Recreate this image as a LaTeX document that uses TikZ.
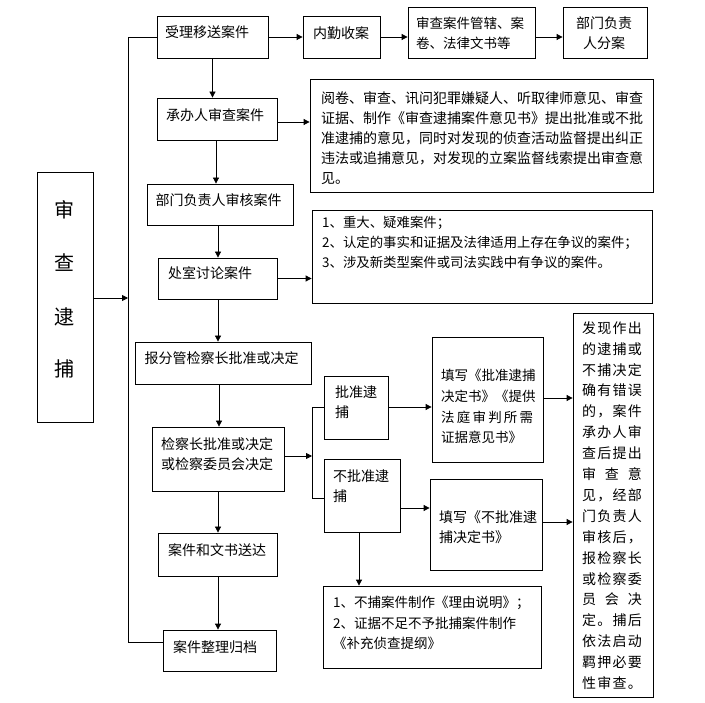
\documentclass[tikz,border=0pt]{standalone}
\usepackage{fontspec}
\setmainfont{Noto Sans CJK SC}
\usetikzlibrary{arrows.meta,calc}
\makeatletter
\def\spr@#1#2\@nil{#1\ifx\relax#2\relax\else\hfill\spr@#2\@nil\fi}
\newcommand\sline[2]{\makebox[#1][s]{\spr@#2\@nil}}
\makeatother
\begin{document}
\begin{tikzpicture}[x=1pt,y=-1pt,
  box/.style={draw,line width=0.8pt,inner sep=0pt,anchor=center},
  txt/.style={font={\fontsize{14}{20}\selectfont},inner sep=0pt},
  arr/.style={line width=0.8pt,-{Triangle[length=6pt,width=6pt]}},
  ln/.style={line width=0.8pt}]
\useasboundingbox (0,0) rectangle (705,703);
\fill[white] (0,0) rectangle (705,703);
% boxes
\node[box,minimum width=111pt,minimum height=42pt] (shouli) at (212.5,37) {};
\node[txt] at (207,32) {受理移送案件};
\node[box,minimum width=77pt,minimum height=42pt] (neiqin) at (341.5,37) {};
\node[txt] at (341,33) {内勤收案};
\node[box,minimum width=127pt,minimum height=51pt] (guanxia) at (471.5,32.5) {};
\node[txt,align=left,font={\fontsize{13.5}{20}\selectfont}] at (470,33) {审查案件管辖、案\\卷、法律文书等};
\node[box,minimum width=84pt,minimum height=51pt] (fenan) at (605,32.5) {};
\node[txt,align=center] at (604,33) {部门负责\\人分案};
\node[box,minimum width=120pt,minimum height=42pt] (chengban) at (217,119) {};
\node[txt] at (215,115) {承办人审查案件};
\node[box,minimum width=343pt,minimum height=113pt] (yuejuan) at (481.5,135.5) {};
\node[txt,align=left,anchor=west] at (321,138) {阅卷、审查、讯问犯罪嫌疑人、听取律师意见、审查\\证据、制作《审查逮捕案件意见书》提出批准或不批\\准逮捕的意见，同时对发现的侦查活动监督提出纠正\\违法或追捕意见，对发现的立案监督线索提出审查意\\见。};
\node[box,minimum width=146pt,minimum height=41pt] (shenhe) at (220,204.5) {};
\node[txt] at (218.5,200) {部门负责人审核案件};
\node[box,minimum width=340pt,minimum height=93pt] (yinan) at (482,256.5) {};
\node[txt,align=left,anchor=west,font={\fontsize{13.4}{20}\selectfont}] at (322,242) {1、重大、疑难案件；\\2、认定的事实和证据及法律适用上存在争议的案件；\\3、涉及新类型案件或司法实践中有争议的案件。};
\node[box,minimum width=119pt,minimum height=41pt] (chushi) at (217.5,278.5) {};
\node[txt] at (210,273) {处室讨论案件};
\node[box,minimum width=176pt,minimum height=42pt] (baofen) at (223,363) {};
\node[txt] at (221.5,358) {报分管检察长批准或决定};
\node[box,minimum width=132pt,minimum height=64pt] (jcz) at (218,459) {};
\node[txt,align=center] at (217,454) {检察长批准或决定\\或检察委员会决定};
\node[box,minimum width=64pt,minimum height=63pt] (pizhun) at (356,407.5) {};
\node[txt,align=left,anchor=west] at (335,402) {批准逮\\捕};
\node[box,minimum width=76pt,minimum height=73pt] (bupizhun) at (362,495.5) {};
\node[txt,align=left,anchor=west] at (333,486) {不批准逮\\捕};
\node[box,minimum width=111pt,minimum height=125pt] (tx1) at (487.5,399.5) {};
\node[txt,align=left,anchor=west,font={\fontsize{13.5}{20.8}\selectfont}] at (441,406.5) {\sline{92pt}{填写《批准逮捕}\\\sline{92pt}{决定书》《提供}\\\sline{92pt}{法庭审判所需}\\证据意见书》};
\node[box,minimum width=112pt,minimum height=91pt] (tx2) at (486,524.5) {};
\node[txt,align=left,anchor=west] at (439,527) {填写《不批准逮\\捕决定书》};
\node[box,minimum width=80pt,minimum height=384pt] (faxian) at (613,505) {};
\node[txt,align=left,font={\fontsize{14}{20.9}\selectfont}] at (612,505.5) {\sline{60pt}{发现作出}\\\sline{60pt}{的逮捕或}\\\sline{60pt}{不捕决定}\\\sline{60pt}{确有错误}\\\sline{60pt}{的，案件}\\\sline{60pt}{承办人审}\\\sline{60pt}{查后提出}\\\sline{60pt}{审查意}\\\sline{60pt}{见，经部}\\\sline{60pt}{门负责人}\\\sline{60pt}{审核后，}\\\sline{60pt}{报检察长}\\\sline{60pt}{或检察委}\\\sline{60pt}{员会决}\\\sline{60pt}{定。捕后}\\\sline{60pt}{依法启动}\\\sline{60pt}{羁押必要}\\\sline{60pt}{性审查。}};
\node[box,minimum width=218pt,minimum height=82pt] (buchong) at (432,627) {};
\node[txt,align=left,anchor=west,font={\fontsize{13.5}{20.5}\selectfont}] at (333,623) {1、不捕案件制作《理由说明》；\\2、证据不足不予批捕案件制作\\《补充侦查提纲》};
\node[box,minimum width=119pt,minimum height=43pt] (songda) at (217.5,554.5) {};
\node[txt] at (217,550) {案件和文书送达};
\node[box,minimum width=113pt,minimum height=41pt] (guidang) at (219.5,650.5) {};
\node[txt] at (215,647) {案件整理归档};
\node[box,minimum width=56pt,minimum height=250pt] (left) at (65,297) {};
\node[inner sep=0pt,font={\fontsize{20}{20}\selectfont}] at (64,210) {审};
\node[inner sep=0pt,font={\fontsize{20}{20}\selectfont}] at (64,263) {查};
\node[inner sep=0pt,font={\fontsize{20}{20}\selectfont}] at (64,317) {逮};
\node[inner sep=0pt,font={\fontsize{20}{20}\selectfont}] at (64,369) {捕};
% helper coordinates
\coordinate (lt) at (128,37);
\coordinate (lb) at (128,642);
\coordinate (lm) at (128,298);
\coordinate (vt) at (312,407);
\coordinate (vb) at (312,498);
\coordinate (vm) at (312,456);
% connectors
\draw[arr] (shouli.east) -- (neiqin.west);
\draw[arr] (neiqin.east) -- (neiqin.east -| guanxia.west);
\draw[arr] (neiqin.east -| guanxia.east) -- (neiqin.east -| fenan.west);
\draw[arr] (shouli.south) -- (shouli.south |- chengban.north);
\draw[arr] ($(chengban.east)+(0,3)$) -- ($(chengban.east -| yuejuan.west)+(0,3)$);
\draw[arr] ($(chengban.south)+(-1,0)$) -- ($(chengban.south |- shenhe.north)+(-1,0)$);
\draw[arr] ($(shenhe.south)+(-2,0)$) -- ($(shenhe.south |- chushi.north)+(-2,0)$);
\draw[arr] (chushi.east) -- (chushi.east -| yinan.west);
\draw[arr] ($(chushi.south)+(0.5,0)$) -- ($(chushi.south |- baofen.north)+(0.5,0)$);
\draw[arr] ($(baofen.south)+(-4,0)$) -- ($(baofen.south |- jcz.north)+(-4,0)$);
\draw[ln] (pizhun.west |- vt) -- (vt) -- (vb) -- (bupizhun.west |- vb);
\draw[arr] (jcz.east |- vm) -- (vm);
\draw[arr] (pizhun.east |- vt) -- (tx1.west |- vt);
\draw[arr] (tx1.east |- 0,398) -- (faxian.west |- 0,398);
\draw[arr] (bupizhun.east |- 0,508) -- (tx2.west |- 0,508);
\draw[arr] (tx2.east |- 0,522) -- (faxian.west |- 0,522);
\draw[arr] (bupizhun.south -| 359,0) -- (buchong.north -| 359,0);
\draw[arr] (jcz.south) -- (jcz.south |- songda.north);
\draw[arr] ($(songda.south)+(0.5,0)$) -- ($(songda.south |- guidang.north)+(0.5,0)$);
\draw[ln] (shouli.west) -- (lt) -- (lb) -- (lb -| guidang.west);
\draw[arr] (left.east |- lm) -- (lm);
\end{tikzpicture}
\end{document}
